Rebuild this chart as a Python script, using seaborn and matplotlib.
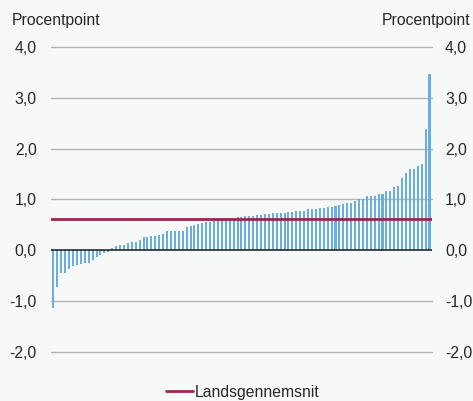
import numpy as np
import pandas as pd
import matplotlib
matplotlib.use('Agg')
import matplotlib.pyplot as plt
import seaborn as sns

# Values, sorted (procentpoint)
values = [-1.14, -0.72, -0.45, -0.45, -0.37, -0.31, -0.29, -0.27, -0.24, -0.24,
          -0.19, -0.14, -0.09, -0.06, -0.04, 0.04, 0.09, 0.105, 0.105, 0.15,
          0.17, 0.17, 0.20, 0.26, 0.26, 0.28, 0.29, 0.30, 0.32, 0.38,
          0.38, 0.38, 0.38,
          0.39, 0.45, 0.48, 0.49, 0.51, 0.53, 0.55, 0.56, 0.58, 0.59,
          0.59, 0.60, 0.60, 0.62, 0.65, 0.66, 0.68, 0.68, 0.68, 0.70,
          0.70, 0.71, 0.72, 0.73, 0.73, 0.73, 0.73, 0.76, 0.76, 0.77,
          0.77, 0.78, 0.81,
          0.82, 0.82, 0.84, 0.84, 0.86, 0.86, 0.875, 0.89, 0.91, 0.93,
          0.93, 0.97, 1.00, 1.01, 1.07, 1.07, 1.07, 1.10, 1.11, 1.17,
          1.17, 1.25, 1.27, 1.43, 1.53, 1.60, 1.60, 1.66, 1.70, 2.39, 3.46]
municipalities = [f'k{i}' for i in range(len(values))]
national_avg = 0.61
yticks = [-2.0, -1.0, 0.0, 1.0, 2.0, 3.0, 4.0]
ytick_labels = ['-2,0', '-1,0', '0,0', '1,0', '2,0', '3,0', '4,0']

df = pd.DataFrame({'kommune': municipalities, 'value': values})

bg = '#f7f8f8'
bar_color = '#6aaed9'
line_color = '#9e2550'
fs = 11.3

sns.set_style('white')
plt.rcParams['font.family'] = ['Liberation Sans', 'DejaVu Sans']

fig = plt.figure(figsize=(4.73, 4.01), dpi=100, facecolor=bg)
ax = fig.add_axes([0.108, 0.122, 0.805, 0.761])
ax.set_facecolor(bg)

# gridlines
for t in yticks:
    if t != 0:
        ax.axhline(t, color='#b4b4b4', lw=1.0, zorder=0, clip_on=False)

sns.barplot(data=df, x='kommune', y='value', color=bar_color, width=0.52,
            saturation=1, linewidth=0, ax=ax, zorder=2)
ax.axhline(0, color='#1a1a1a', lw=1.1, zorder=3)
ax.axhline(national_avg, color=line_color, lw=2.0, zorder=4, label='Landsgennemsnit')

ax.set_xlim(-0.6, len(values) - 0.4)
ax.set_ylim(-2.0, 4.0)
ax.set_yticks(yticks)
ax.set_yticklabels(ytick_labels, fontsize=fs)
ax.tick_params(axis='y', length=0, pad=10.3)
ax.set_xticks([])
ax.set_xlabel('')
ax.set_ylabel('')
sns.despine(ax=ax, left=True, bottom=True)

ax2 = ax.twinx()
ax2.set_ylim(-2.0, 4.0)
ax2.set_yticks(yticks)
ax2.set_yticklabels(ytick_labels, fontsize=fs)
ax2.tick_params(axis='y', length=0, pad=9.4)
for s in ax2.spines.values():
    s.set_visible(False)

fig.text(12 / 473, 1 - 21 / 401, 'Procentpoint', fontsize=fs, ha='left', va='center')
fig.text(470 / 473, 1 - 21 / 401, 'Procentpoint', fontsize=fs, ha='right', va='center')

fig.legend(handles=[ax.lines[-1]], labels=['Landsgennemsnit'], loc='center',
           bbox_to_anchor=(0.513, 1 - 392 / 401), frameon=False, fontsize=fs,
           handlelength=1.72, handletextpad=0.15)

fig.savefig('out.png', dpi=100, facecolor=bg)
